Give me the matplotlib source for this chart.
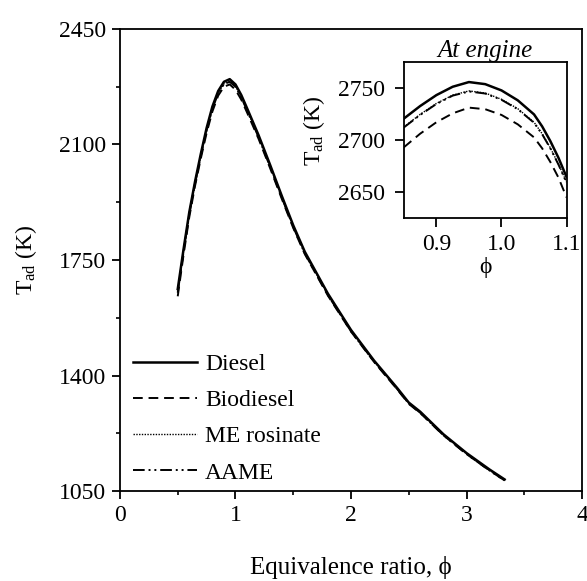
import numpy as np
import matplotlib
matplotlib.use("Agg")
import matplotlib.pyplot as plt

# --- Data ---
phi = [0.5, 0.55, 0.6, 0.65, 0.7, 0.75, 0.8, 0.85, 0.9, 0.95, 1.0, 1.05,
       1.1, 1.2, 1.3, 1.4, 1.5, 1.6, 1.8, 2.0, 2.2, 2.4, 2.5, 2.6, 2.8,
       3.0, 3.2, 3.33]
t_diesel = [1662, 1782, 1895, 1988, 2072, 2150, 2215, 2262, 2290, 2298,
            2282, 2250, 2210, 2128, 2038, 1945, 1855, 1775, 1648, 1538,
            1445, 1362, 1318, 1290, 1222, 1165, 1115, 1085]
t_biodiesel = [1640, 1765, 1880, 1975, 2058, 2135, 2200, 2248, 2275, 2282,
               2266, 2236, 2197, 2117, 2028, 1936, 1847, 1768, 1642, 1533,
               1441, 1358, 1314, 1286, 1219, 1162, 1112, 1082]
t_rosinate = [1652, 1775, 1889, 1983, 2066, 2144, 2209, 2256, 2284, 2291,
              2276, 2244, 2204, 2123, 2033, 1941, 1851, 1771, 1645, 1535,
              1443, 1360, 1316, 1288, 1220, 1163, 1113, 1083]
t_aame = [1651, 1774, 1888, 1982, 2065, 2143, 2208, 2255, 2283, 2290,
          2275, 2243, 2203, 2122, 2032, 1940, 1850, 1770, 1644, 1534,
          1442, 1359, 1315, 1287, 1219, 1162, 1112, 1082]

phi_in = [0.85, 0.875, 0.9, 0.925, 0.95, 0.975, 1.0, 1.025, 1.05, 1.0625,
          1.075, 1.0875, 1.1]
ti_diesel = [2720.5, 2732.5, 2743, 2751, 2755.5, 2753.5, 2747.5, 2738,
             2724.5, 2713, 2699, 2683, 2664.5]
ti_biodiesel = [2693, 2706, 2717, 2725.5, 2731, 2729.5, 2724, 2715, 2702.5,
                2692, 2679, 2664, 2645]
ti_rosinate = [2712.5, 2724.5, 2735, 2743, 2747, 2745, 2739, 2730, 2717,
               2706, 2692.5, 2677, 2659.6]
ti_aame = [2712, 2724, 2734.5, 2742.5, 2746.5, 2744.5, 2738.5, 2729.5,
           2716.5, 2705.5, 2692, 2676.5, 2659]

labels = ["Diesel", "Biodiesel", "ME rosinate", "AAME"]
styles = [dict(ls="-", lw=1.8),
          dict(ls=(0, (5, 3)), lw=1.4),
          dict(ls=(0, (1, 1)), lw=1.0),
          dict(ls=(0, (6, 2, 1, 2, 1, 2)), lw=1.4)]

plt.rcParams["font.family"] = ["Liberation Serif", "DejaVu Serif"]
plt.rcParams["mathtext.fontset"] = "custom"
plt.rcParams["mathtext.rm"] = "Liberation Serif"
FS = 17


def style_axes(ax, major_len=6, minor_len=3, pad=4):
    for s in ax.spines.values():
        s.set_linewidth(1.3)
    ax.tick_params(which="major", direction="out", length=major_len,
                   width=1.3, labelsize=FS, pad=pad)
    ax.tick_params(which="minor", direction="out", length=minor_len,
                   width=1.2)


fig = plt.figure(figsize=(5.87, 5.81), dpi=100)
ax = fig.add_axes([0.2044, 0.1549, 0.7871, 0.7952])

series = [t_diesel, t_biodiesel, t_rosinate, t_aame]
for y, lab, st in zip(series, labels, styles):
    ax.plot(phi, y, color="black", label=lab, **st)

ax.set_xlim(0, 4)
ax.set_ylim(1050, 2450)
ax.set_xticks([0, 1, 2, 3, 4])
ax.set_xticks([0.5, 1.5, 2.5, 3.5], minor=True)
ax.set_yticks([1050, 1400, 1750, 2100, 2450])
ax.set_yticks([1225, 1575, 1925, 2275], minor=True)
style_axes(ax)
ax.set_xlabel("Equivalence ratio, \u03d5", fontsize=FS + 1, labelpad=22)
ax.set_ylabel(r"$\mathregular{T_{ad}}$ (K)", fontsize=FS, labelpad=14)

ax.legend(loc="lower left", bbox_to_anchor=(0.0, -0.012), frameon=False,
          fontsize=FS, handlelength=2.7, handletextpad=0.35,
          labelspacing=0.62, borderaxespad=0.15)

# --- Inset ---
axi = fig.add_axes([0.688, 0.6243, 0.2772, 0.2695])
for y, st in zip([ti_diesel, ti_biodiesel, ti_rosinate, ti_aame], styles):
    axi.plot(phi_in, y, color="black", **st)
axi.set_xlim(0.85, 1.1)
axi.set_ylim(2625, 2775)
axi.set_xticks([0.9, 1.0, 1.1])
axi.set_yticks([2650, 2700, 2750])
style_axes(axi, major_len=6.5, pad=5)
axi.tick_params(axis="y", pad=7)
axi.set_xlabel("\u03d5", fontsize=FS, labelpad=1)
axi.set_ylabel(r"$\mathregular{T_{ad}}$ (K)", fontsize=FS)
axi.yaxis.set_label_coords(-0.47, 0.56)
axi.set_title("At engine", fontsize=FS + 1, style="italic", pad=2)

fig.savefig("out.png", dpi=100)
plt.close(fig)
